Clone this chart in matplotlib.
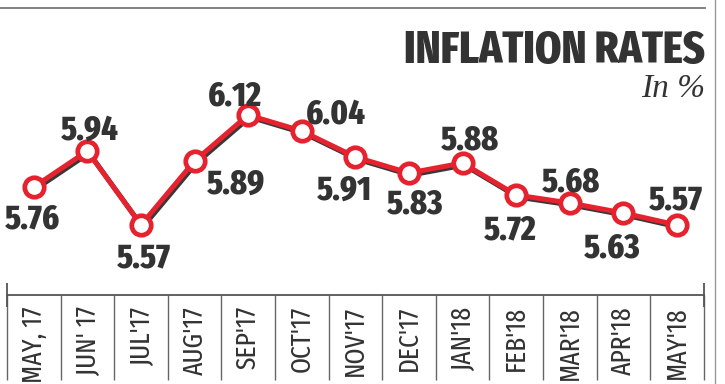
import matplotlib
matplotlib.use("Agg")
import matplotlib.pyplot as plt
import matplotlib.patheffects as pe
from matplotlib.lines import Line2D
import numpy as np

months = ["MAY, 17", "JUN' 17", "JUL'17", "AUG'17", "SEP'17", "OCT'17", "NOV'17",
          "DEC'17", "JAN'18", "FEB'18", "MAR'18", "APR'18", "MAY'18"]
rates = [5.76, 5.94, 5.57, 5.89, 6.12, 6.04, 5.91, 5.83, 5.88, 5.72, 5.68, 5.63, 5.57]
value_labels = ["5.76", "5.94", "5.57", "5.89", "6.12", "6.04", "5.91",
                "5.83", "5.88", "5.72", "5.68", "5.63", "5.57"]

# label offsets in pixels (dx, dy of baseline-center relative to point)
label_offsets = [(-1, -41), (2, 11), (3, -42), (41, -33), (-13, 10), (34, 8), (-11, -43),
                 (6, -40), (7, 14), (-6, -44), (1, 12), (-11, -44), (-1, 16)]

W, H = 725, 384
fig = plt.figure(figsize=(W / 100, H / 100), dpi=100)
fig.patch.set_facecolor("white")

ax_left, ax_right = 7, 703.8
ax_bottom_px, ax_top_px = 295, 8
ax = fig.add_axes([ax_left / W, 1 - ax_bottom_px / H,
                   (ax_right - ax_left) / W, (ax_bottom_px - ax_top_px) / H])
ax.set_facecolor("none")

red = "#e5222e"
txt = "#333333"
bold_font = "Fira Sans Extra Condensed"
tick_font = "Fira Sans Extra Condensed"

x = np.arange(len(rates))
ax.plot(x, rates, color=red, lw=3.6, solid_capstyle="round", zorder=2,
        path_effects=[pe.SimpleLineShadow(offset=(1.2, -1.5), shadow_color="#222222", alpha=0.9),
                      pe.Normal()])
ax.plot(x, rates, ls="none", marker="o", ms=14, mfc="white", mec=red, mew=3.4, zorder=3)

for xi, v, lab, (dx, dy) in zip(x, rates, value_labels, label_offsets):
    ax.annotate(lab, (xi, v), xytext=(dx, dy), textcoords="offset pixels",
                ha="center", va="baseline", fontsize=25, fontweight=800,
                family=bold_font, color=txt, zorder=4)

ax.set_xlim(-0.5, len(rates) - 0.5)
ax.set_ylim(5.57 - (ax_bottom_px - 225) / 200, 5.57 + (225 - ax_top_px) / 200)

for s in ["top", "left", "right"]:
    ax.spines[s].set_visible(False)
ax.spines["bottom"].set_color("#555555")
ax.spines["bottom"].set_linewidth(1.3)
ax.set_yticks([])

ax.set_xticks(x)
ax.set_xticklabels(months, rotation=90, family=tick_font, fontweight="normal",
                   fontsize=20, color=txt, va="top")
ax.tick_params(axis="x", which="major", length=0, pad=8)
ax.set_xticks(np.arange(-0.5, len(rates), 1), minor=True)
ax.tick_params(axis="x", which="minor", length=61, width=1.0, color="#666666", direction="out")

# end caps
trans = ax.get_xaxis_transform()
ax.vlines([-0.5, len(rates) - 0.5], -0.042, 0.042, transform=trans, color="#555555",
          lw=1.3, clip_on=False)

# frame lines
fig.add_artist(Line2D([0, 705 / W], [1 - 7.5 / H, 1 - 7.5 / H], color="#777777", lw=1.3))
fig.add_artist(Line2D([715 / W, 715 / W], [0, 1], color="#999999", lw=1.0))

fig.text(705 / W, 1 - 63 / H, "INFLATION RATES", ha="right", va="baseline",
         fontsize=33, fontweight=800, family=bold_font, color="#333333")
fig.text(705 / W, 1 - 97 / H, "In %", ha="right", va="baseline",
         fontsize=24, style="italic", family="Liberation Serif", color="#333333")

fig.savefig("out.png", dpi=100, facecolor="white")
